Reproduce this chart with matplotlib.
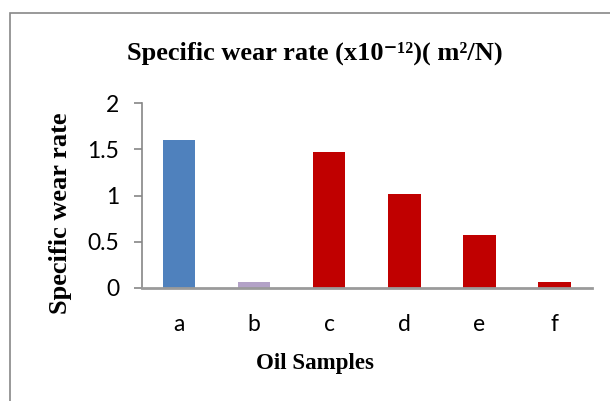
import matplotlib
matplotlib.use("Agg")
import matplotlib.pyplot as plt
from matplotlib.patches import Rectangle

categories = ["a", "b", "c", "d", "e", "f"]
values = [1.60, 0.06, 1.47, 1.02, 0.57, 0.06]
colors = ["#4F81BD", "#B3A2C7", "#C00000", "#C00000", "#C00000", "#C00000"]
yticks = [0, 0.5, 1, 1.5, 2]
ytick_labels = ["0", "0.5", "1", "1.5", "2"]

W, H = 610, 401
fig = plt.figure(figsize=(W / 100, H / 100), dpi=100)
ax = fig.add_axes([141.7 / W, 1 - 288 / H, (592 - 141.7) / W, (288 - 103) / H])

x = list(range(len(categories)))
ax.bar(x, values, width=0.43, color=colors, zorder=2)
ax.set_xlim(-0.5, len(categories) - 0.5)
ax.set_ylim(0, 2)
ax.set_yticks(yticks)
ax.set_yticklabels(ytick_labels)
ax.set_xticks(x)
ax.set_xticklabels(categories)

for s in ["top", "right"]:
    ax.spines[s].set_visible(False)
ax.spines["left"].set_color("#868686")
ax.spines["left"].set_linewidth(1.2)
ax.spines["bottom"].set_color("#9a9a9a")
ax.spines["bottom"].set_linewidth(2.0)
ax.spines["bottom"].set_zorder(3)

tickfont = ["Lato", "DejaVu Sans"]
ax.tick_params(axis="y", length=6, width=1.2, color="#868686", pad=10, labelsize=16.5)
ax.tick_params(axis="x", length=0, pad=19, labelsize=16.5)
for lab in ax.get_xticklabels() + ax.get_yticklabels():
    lab.set_family(tickfont)

serif = ["Liberation Serif", "DejaVu Serif"]
fig.text(315 / W, 1 - 53 / H, "Specific wear rate (x10\u207b\u00b9\u00b2)( m\u00b2/N)",
         ha="center", va="center", fontsize=19, fontweight="bold", family=serif)
fig.text(61 / W, 1 - 213 / H, "Specific wear rate", rotation=90,
         ha="center", va="center", fontsize=19, fontweight="bold", family=serif)
fig.text(315 / W, 1 - 363 / H, "Oil Samples",
         ha="center", va="center", fontsize=16.5, fontweight="bold", family=serif)

fig.patches.append(Rectangle((10 / W, -0.1), 1.2, 1 - 13 / H + 0.1,
                             transform=fig.transFigure, fill=False,
                             edgecolor="#888888", linewidth=1.2))

fig.savefig("out.png", dpi=100)
